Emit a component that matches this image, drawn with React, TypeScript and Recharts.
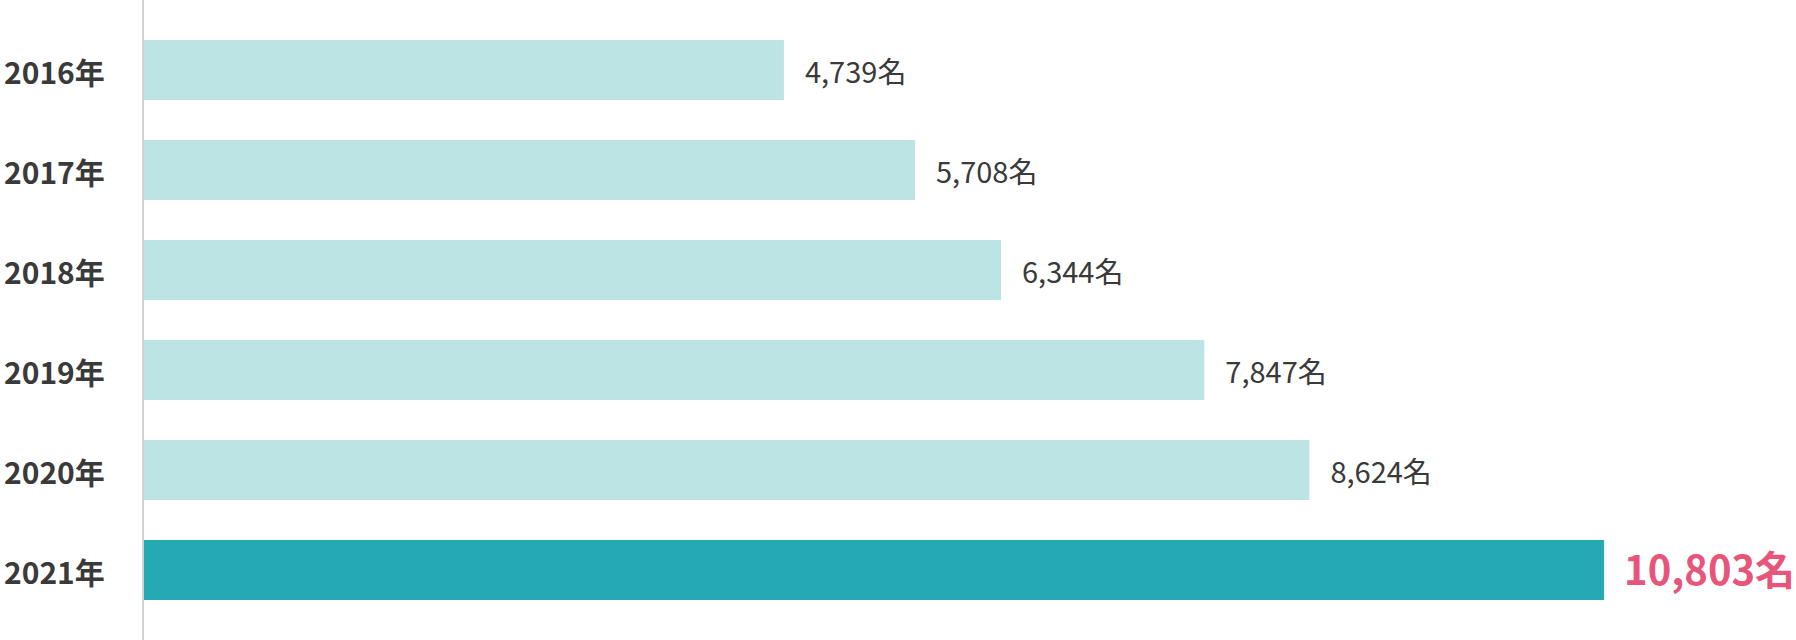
import React from "react";
import { BarChart, Bar, XAxis, YAxis, Cell, LabelList } from "recharts";

const years = ["2016年", "2017年", "2018年", "2019年", "2020年", "2021年"];
const counts = [4739, 5708, 6344, 7847, 8624, 10803];
const unit = "名";

const data = years.map((y, i) => ({ name: y, value: counts[i] }));

const FONT = "'Noto Sans CJK JP', 'Noto Sans', sans-serif";
const LIGHT = "#bde4e4";
const DARK = "#25a9b5";
const PINK = "#e8557a";
const TEXT = "#3a3a3a";

const YTick = (props: any) => {
  const { y, payload } = props;
  return (
    <text
      x={4}
      y={y}
      dy={14}
      textAnchor="start"
      fontFamily={FONT}
      fontWeight={700}
      fontSize={30}
      fill={TEXT}
    >
      {payload.value}
    </text>
  );
};

const ValueLabel = (props: any) => {
  const { x, y, width, height, value, index } = props;
  const last = index === counts.length - 1;
  return (
    <text
      x={x + width + (last ? 20 : 21)}
      y={y + height / 2}
      dy={last ? 15 : 13}
      textAnchor="start"
      fontFamily={FONT}
      fontWeight={last ? 700 : 400}
      fontSize={last ? 40 : 29}
      fill={last ? PINK : TEXT}
    >
      {Number(value).toLocaleString("en-US") + unit}
    </text>
  );
};

export default function App() {
  return (
    <div style={{ position: "absolute", left: 0, top: 0, background: "#fff" }}>
      <BarChart
        width={1796}
        height={640}
        data={data}
        layout="vertical"
        margin={{ top: 0, right: 30, bottom: 0, left: 0 }}
        barCategoryGap={40}
      >
        <XAxis type="number" hide domain={[0, 12000]} />
        <YAxis
          type="category"
          dataKey="name"
          width={143}
          padding={{ top: 20, bottom: 20 }}
          axisLine={{ stroke: "#d4d4cf", strokeWidth: 2 }}
          tickLine={false}
          tick={<YTick />}
          interval={0}
        />
        <Bar dataKey="value" barSize={60} isAnimationActive={false}>
          {data.map((d, i) => (
            <Cell key={d.name} fill={i === data.length - 1 ? DARK : LIGHT} />
          ))}
          <LabelList dataKey="value" content={<ValueLabel />} />
        </Bar>
      </BarChart>
    </div>
  );
}
